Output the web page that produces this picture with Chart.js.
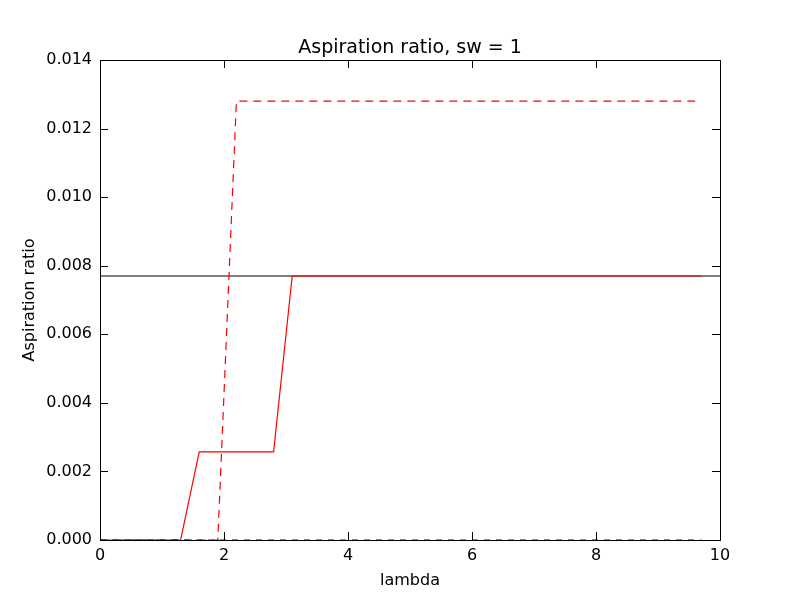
<!DOCTYPE html>
<html>
<head>
<script src="https://cdn.jsdelivr.net/npm/chart.js@4"></script>
<style>body{margin:0;background:#fff}#wrap{width:800px;height:600px}</style>
</head>
<body>
<div id="wrap"><canvas id="c"></canvas></div>
<script>
// series data
const solidX = [0, 1.3, 1.6, 2.8, 3.1, 9.7];
const solidY = [0, 0, 0.00257, 0.00257, 0.0077, 0.0077];
const dashedX = [0, 1.9, 2.2, 9.6];
const dashedY = [0, 0, 0.0128, 0.0128];
const zeroX = [0, 9.7];
const zeroY = [0, 0];
const refX = [0, 10];
const refY = [0.0077, 0.0077];
const xTicks = [0, 2, 4, 6, 8, 10];
const yTicks = [0, 0.002, 0.004, 0.006, 0.008, 0.010, 0.012, 0.014];
const titleText = 'Aspiration ratio, sw = 1';

const pts = (xs, ys) => xs.map((x, i) => ({x: x, y: ys[i]}));
const font = {family: 'DejaVu Sans', size: 16};

// inward tick marks on all four sides, frame and title centred on the plot
const innerTicks = {
    id: 'innerTicks',
    afterDraw(chart) {
        const {ctx, chartArea: a, scales: {x, y}} = chart;
        ctx.save();
        ctx.strokeStyle = '#000';
        ctx.lineWidth = 1;
        ctx.beginPath();
        xTicks.forEach(v => {
            const px = Math.round(x.getPixelForValue(v)) + 0.5;
            ctx.moveTo(px, a.bottom); ctx.lineTo(px, a.bottom - 8);
            ctx.moveTo(px, a.top); ctx.lineTo(px, a.top + 8);
        });
        yTicks.forEach(v => {
            const py = Math.round(y.getPixelForValue(v)) + 0.5;
            ctx.moveTo(a.left, py); ctx.lineTo(a.left + 8, py);
            ctx.moveTo(a.right, py); ctx.lineTo(a.right - 8, py);
        });
        ctx.stroke();
        ctx.strokeRect(a.left + 0.5, a.top + 0.5, a.right - a.left, a.bottom - a.top);
        ctx.fillStyle = '#000';
        ctx.font = '19px "DejaVu Sans"';
        ctx.textAlign = 'center';
        ctx.textBaseline = 'alphabetic';
        ctx.fillText(titleText, (a.left + a.right) / 2, a.top - 7);
        ctx.restore();
    }
};

new Chart(document.getElementById('c'), {
    type: 'scatter',
    data: {
        datasets: [
            {data: pts(zeroX, zeroY), borderColor: '#0000ff', borderDash: [6, 6], borderWidth: 1},
            {data: pts(solidX, solidY), borderColor: '#ff0000', borderWidth: 1.2},
            {data: pts(dashedX, dashedY), borderColor: '#ff0000', borderDash: [8, 6], borderWidth: 1.2},
            {data: pts(refX, refY), borderColor: '#000000', borderWidth: 1.2}
        ].map(d => Object.assign(d, {showLine: true, pointRadius: 0, fill: false}))
    },
    options: {
        responsive: true,
        maintainAspectRatio: false,
        animation: false,
        layout: {padding: {top: 60, right: 80, left: 20, bottom: 10}},
        plugins: {
            legend: {display: false},
            tooltip: {enabled: false},
            title: {display: false}
        },
        scales: {
            x: {
                type: 'linear', min: 0, max: 10,
                afterBuildTicks: s => { s.ticks = xTicks.map(v => ({value: v})); },
                afterFit: s => { s.height = 50; },
                grid: {display: false, drawTicks: false},
                border: {display: false},
                ticks: {color: '#000', font: font, padding: 6},
                title: {display: true, text: 'lambda', color: '#000', font: font, padding: 0}
            },
            y: {
                type: 'linear', min: 0, max: 0.014,
                afterBuildTicks: s => { s.ticks = yTicks.map(v => ({value: v})); },
                afterFit: s => { s.width = 80; },
                grid: {display: false, drawTicks: false},
                border: {display: false},
                ticks: {color: '#000', font: font, padding: 8, callback: v => v.toFixed(3)},
                title: {display: true, text: 'Aspiration ratio', color: '#000', font: font, padding: 0}
            }
        }
    },
    plugins: [innerTicks]
});
</script>
</body>
</html>
